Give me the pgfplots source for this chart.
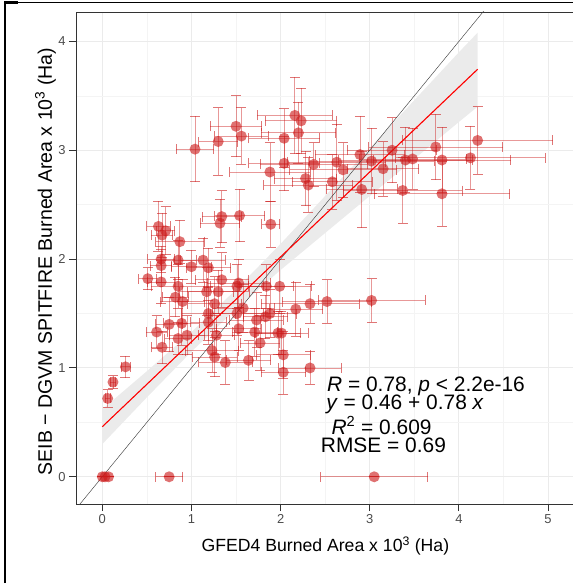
\documentclass[border=0pt]{standalone}
\usepackage{fontspec}
\setmainfont{Liberation Sans}
\usepackage{pgfplots}
\usepackage{pgfplotstable}
\pgfplotsset{compat=1.18}
\definecolor{ptred}{HTML}{CC1A1A}
\definecolor{bandgray}{HTML}{EBEBEB}
\definecolor{gridmaj}{HTML}{EBEBEB}
\definecolor{gridmin}{HTML}{F4F4F4}
\definecolor{frame}{HTML}{333333}

% x y ex ey  (GFED4 vs SEIB-DGVM, x10^3 Ha)
\pgfplotstableread{
x y ex ey
1.04 3.01 0.21 0.30
1.30 3.08 0.22 0.31
1.50 3.22 0.29 0.28
1.56 3.13 0.30 0.26
1.88 2.80 0.45 0.27
2.04 2.88 0.40 0.25
2.04 3.11 0.40 0.27
2.16 3.32 0.42 0.35
2.23 3.27 0.40 0.30
2.20 3.16 0.42 0.28
2.37 2.87 0.60 0.20
2.63 2.89 0.55 0.35
2.70 2.82 0.60 0.25
2.89 2.96 0.50 0.35
3.02 2.90 0.70 0.30
3.15 2.83 0.40 0.25
3.25 3.00 0.50 0.30
3.40 2.91 0.75 0.30
3.48 2.92 0.60 0.28
3.74 3.03 0.75 0.30
3.81 2.91 0.77 0.30
4.13 2.93 0.84 0.29
4.21 3.09 0.84 0.31
2.31 2.68 0.50 0.25
2.58 2.71 0.45 0.25
2.91 2.64 0.40 0.35
3.37 2.63 0.67 0.30
3.81 2.60 0.76 0.30
2.28 2.74 0.35 0.25
0.63 2.30 0.13 0.23
0.67 2.22 0.12 0.20
0.71 2.26 0.10 0.22
0.87 2.16 0.27 0.20
1.34 2.39 0.22 0.24
1.32 2.33 0.22 0.22
1.54 2.40 0.28 0.24
1.89 2.32 0.10 0.21
0.66 2.00 0.15 0.12
0.66 1.94 0.12 0.15
0.85 1.99 0.20 0.18
1.00 1.93 0.22 0.15
1.13 1.99 0.25 0.20
1.19 1.92 0.25 0.18
0.51 1.82 0.10 0.10
0.66 1.79 0.15 0.20
0.85 1.75 0.30 0.20
1.34 1.81 0.30 0.25
1.53 1.78 0.35 0.22
1.99 1.75 0.35 0.25
1.84 1.75 0.30 0.20
1.51 1.75 0.30 0.20
1.17 1.70 0.30 0.22
1.30 1.70 0.35 0.20
0.82 1.65 0.15 0.18
0.90 1.61 0.25 0.20
1.26 1.59 0.30 0.25
1.58 1.55 0.35 0.22
1.19 1.50 0.30 0.25
1.51 1.50 0.30 0.20
1.88 1.50 0.30 0.22
1.83 1.47 0.25 0.20
1.73 1.44 0.30 0.25
1.19 1.42 0.20 0.20
0.61 1.33 0.12 0.15
0.75 1.40 0.15 0.25
0.89 1.41 0.20 0.20
0.95 1.30 0.20 0.18
0.85 1.27 0.15 0.15
1.28 1.30 0.20 0.18
1.53 1.36 0.25 0.20
1.71 1.33 0.25 0.22
1.77 1.23 0.22 0.25
1.97 1.32 0.25 0.20
0.67 1.19 0.12 0.15
1.23 1.16 0.30 0.20
1.26 1.10 0.25 0.18
1.38 1.05 0.30 0.20
1.64 1.07 0.25 0.18
2.03 1.12 0.30 0.22
2.03 0.96 0.25 0.20
2.33 1.00 0.35 0.15
2.17 1.54 0.30 0.25
2.33 1.59 0.55 0.18
2.52 1.61 0.50 0.20
3.02 1.62 0.60 0.20
2.01 1.32 0.30 0.20
0.26 1.01 0.05 0.10
0.12 0.87 0.03 0.06
0.06 0.72 0.03 0.08
0.00 0.00 0.00 0.00
0.03 0.00 0.00 0.00
0.07 0.00 0.00 0.00
0.75 0.00 0.15 0.00
3.05 0.00 0.60 0.00
}\pts

\begin{document}
\begin{tikzpicture}
\path[use as bounding box] (-76bp,-83bp) rectangle (497bp,504bp);
\begin{axis}[
    at={(0,0)}, anchor=south west,
    scale only axis,
    width=498.8bp, height=492bp,
    xmin=-0.295, xmax=5.3,
    ymin=-0.25, ymax=4.27,
    xtick={0,1,2,3,4,5},
    ytick={0,1,2,3,4},
    minor xtick={0.5,1.5,2.5,3.5,4.5},
    minor ytick={0.5,1.5,2.5,3.5},
    grid=both,
    major grid style={draw=gridmaj, line width=1.1bp},
    minor grid style={draw=gridmin, line width=0.6bp},
    minor tick length=0pt,
    major tick length=7bp,
    tick align=outside,
    xtick pos=bottom, ytick pos=left,
    axis line style={draw=frame, line width=0.9bp},
    tick style={draw=frame, line width=0.9bp},
    /pgf/number format/assume math mode=true,
    tick label style={font=\fontsize{13}{13}\selectfont, text=black!70},
    xlabel={GFED4 Burned Area x 10\textsuperscript{3} (Ha)},
    ylabel={SEIB − DGVM SPITFIRE Burned Area x 10\textsuperscript{3} (Ha)},
    xlabel style={font=\fontsize{17.7}{18}\selectfont, at={(axis description cs:0.5,0)}, anchor=base, yshift=-47.7bp},
    ylabel style={font=\fontsize{19.6}{20}\selectfont, at={(axis description cs:0,0.493)}, anchor=base, rotate=0, xshift=0pt, yshift=24bp},
]
% confidence band
\addplot[fill=bandgray, draw=none] coordinates {
  (0,0.30) (0.5,0.73) (1,1.15) (1.5,1.54) (2,1.90) (2.5,2.24) (3,2.58) (3.5,2.92) (4,3.26) (4.21,3.40)
  (4.21,4.08) (4,3.90) (3.5,3.46) (3,3.02) (2.5,2.58) (2,2.14) (1.5,1.72) (1,1.33) (0.5,0.97) (0,0.62)
} --cycle;
% points with error bars
\addplot[color=ptred, only marks, mark=*, mark size=5.5bp,
    mark options={draw opacity=0, fill=ptred, fill opacity=0.62},
    error bars/.cd,
      x dir=both, x explicit,
      y dir=both, y explicit,
      error bar style={draw=ptred, draw opacity=0.45, line width=0.8bp},
      error mark options={rotate=90, draw=ptred, draw opacity=0.6, line width=0.8bp, mark size=5bp},
] table[x=x, y=y, x error=ex, y error=ey] {\pts};
% 1:1 line
\addplot[draw=black!75, line width=0.45bp] coordinates {(-0.3,-0.3) (4.4,4.4)};
% regression line
\addplot[draw=red, line width=1.1bp] coordinates {(0,0.46) (4.21,3.744)};
% annotations
\node[anchor=base west, inner sep=0pt, font=\fontsize{21}{21}\selectfont] at (axis cs:2.52,0.78) {\textit{R} = 0.78, \textit{p} < 2.2e-16};
\node[anchor=base west, inner sep=0pt, font=\fontsize{21}{21}\selectfont] at (axis cs:2.51,0.62) {\textit{y} = 0.46 + 0.78 \textit{x}};
\node[anchor=base west, inner sep=0pt, font=\fontsize{21}{21}\selectfont] at (axis cs:2.57,0.39) {\textit{R}\textsuperscript{2} = 0.609};
\node[anchor=base west, inner sep=0pt, font=\fontsize{21}{21}\selectfont] at (axis cs:2.45,0.22) {RMSE = 0.69};
\end{axis}
% outer frame
\draw[black, line width=2bp] (-71bp,-79bp) -- (-71bp,502bp);
\draw[black, line width=1.2bp] (-72bp,501.5bp) -- (497bp,501.5bp);
\fill[black] (-72bp,500bp) rectangle (-58bp,502.5bp);
\end{tikzpicture}
\end{document}
